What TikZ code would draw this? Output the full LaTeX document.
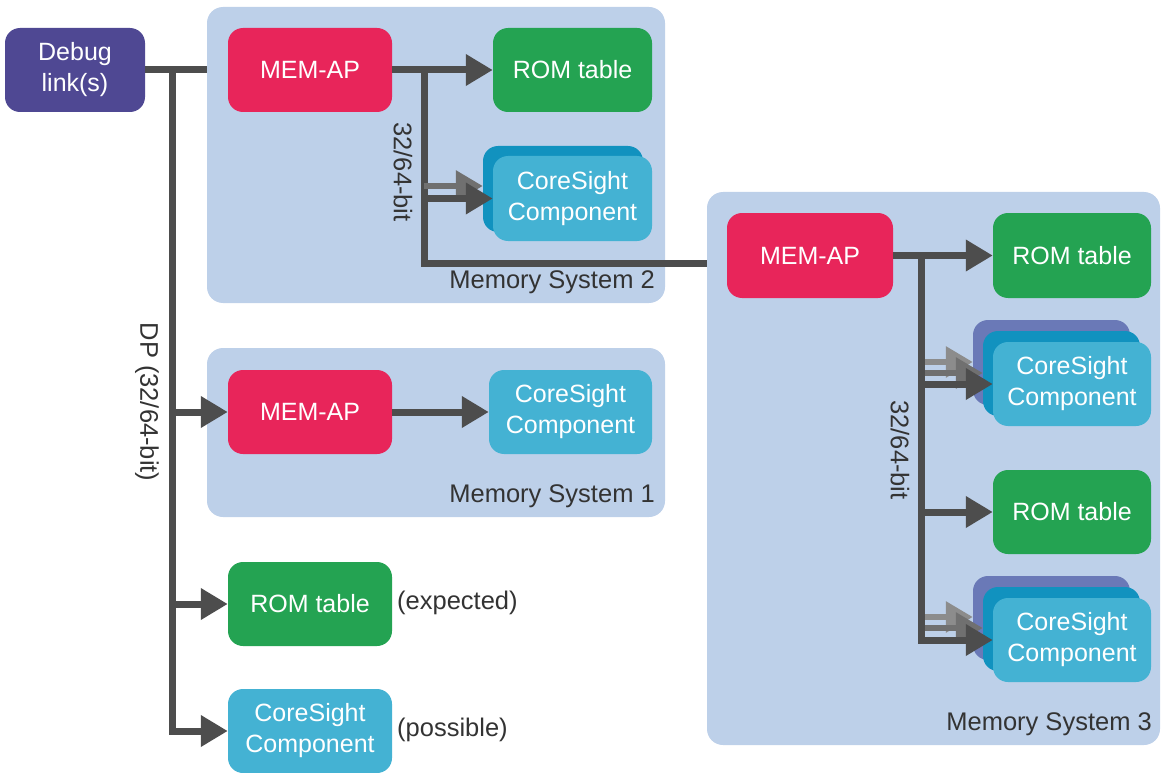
\documentclass[tikz,border=0pt]{standalone}
\usepackage{fontspec}
\setmainfont{Liberation Sans}
\usetikzlibrary{arrows.meta}
\definecolor{msfill}{HTML}{BDD0E9}
\definecolor{apred}{HTML}{E8255A}
\definecolor{romgreen}{HTML}{24A352}
\definecolor{dbgpurple}{HTML}{4F4893}
\definecolor{cscyan}{HTML}{44B2D3}
\definecolor{csblue}{HTML}{1192BF}
\definecolor{csback}{HTML}{6A79B7}
\definecolor{linegray}{HTML}{4D4D4D}
\definecolor{midgray}{HTML}{707070}
\definecolor{lightgray}{HTML}{8C8C8C}
\definecolor{txtgray}{HTML}{333333}
\tikzset{
  box/.style={rounded corners=15pt, inner sep=0pt, text=white, align=center,
    font=\fontsize{25}{31}\selectfont},
  membox/.style={rounded corners=16pt, fill=msfill, inner sep=0pt},
  wire/.style={draw=linegray, line width=7pt},
  arr/.style={wire, -{Triangle[length=27pt,width=30pt]}},
  arrmid/.style={draw=midgray, line width=6pt, -{Triangle[length=27pt,width=30pt]}},
  arrlight/.style={draw=lightgray, line width=6pt, -{Triangle[length=27pt,width=30pt]}},
  lbl/.style={text=txtgray, font=\fontsize{25.5}{30}\selectfont, inner sep=0pt},
}
\begin{document}
\begin{tikzpicture}[x=1pt,y=-1pt]
\useasboundingbox (0,0) rectangle (1168,773);
% memory systems
\node[membox, minimum width=458pt, minimum height=296pt] (ms2) at (436,155) {};
\node[membox, minimum width=458pt, minimum height=169pt] (ms1) at (436,432.5) {};
\node[membox, minimum width=453pt, minimum height=553pt] (ms3) at (933.5,468.5) {};
\node[lbl, anchor=south east] (ms2l) at (655,294) {Memory System 2};
\node[lbl, anchor=south east] (ms1l) at (655,508) {Memory System 1};
\node[lbl, anchor=south east] (ms3l) at (1152,736) {Memory System 3};
% debug link
\node[box, fill=dbgpurple, minimum width=140pt, minimum height=84pt] (dbg) at (75,70) {Debug\\link(s)};
% MS2
\node[box, fill=apred, minimum width=164pt, minimum height=84pt] (ap2) at (310,70) {MEM-AP};
\node[box, fill=romgreen, minimum width=159pt, minimum height=84pt] (rom2) at (572.5,70) {ROM table};
\node[box, fill=csblue, minimum width=160pt, minimum height=86pt] (cs2b) at (563,189) {};
\node[box, fill=cscyan, minimum width=159pt, minimum height=85pt] (cs2) at (572.5,198.5) {CoreSight\\Component};
% MS1
\node[box, fill=apred, minimum width=164pt, minimum height=84pt] (ap1) at (310,412) {MEM-AP};
\node[box, fill=cscyan, minimum width=163pt, minimum height=84pt] (cs1) at (570.5,412) {CoreSight\\Component};
% DP direct
\node[box, fill=romgreen, minimum width=164pt, minimum height=84pt] (rom0) at (310,604) {ROM table};
\node[box, fill=cscyan, minimum width=164pt, minimum height=84pt] (cs0) at (310,731) {CoreSight\\Component};
\node[lbl, anchor=west] (expl) at (397,603) {(expected)};
\node[lbl, anchor=west] (possl) at (397,730) {(possible)};
% MS3
\node[box, fill=apred, minimum width=166pt, minimum height=85pt] (ap3) at (810,255.5) {MEM-AP};
\node[box, fill=romgreen, minimum width=158pt, minimum height=85pt] (rom3a) at (1072,255.5) {ROM table};
\node[box, fill=csback, minimum width=157pt, minimum height=85pt] (cs3ab) at (1051.5,362.5) {};
\node[box, fill=csblue, minimum width=157pt, minimum height=85pt] (cs3am) at (1061.5,373.5) {};
\node[box, fill=cscyan, minimum width=158pt, minimum height=84pt] (cs3a) at (1072,384) {CoreSight\\Component};
\node[box, fill=romgreen, minimum width=158pt, minimum height=84pt] (rom3b) at (1072,512) {ROM table};
\node[box, fill=csback, minimum width=157pt, minimum height=84pt] (cs3bb) at (1051.5,618) {};
\node[box, fill=csblue, minimum width=157pt, minimum height=84pt] (cs3bm) at (1061.5,629) {};
\node[box, fill=cscyan, minimum width=158pt, minimum height=84pt] (cs3b) at (1072,640) {CoreSight\\Component};
% rotated labels
\node[lbl, rotate=-90] (dpl) at (147,402) {DP (32/64-bit)};
\node[lbl, rotate=-90] (bw2) at (403,172) {32/64-bit};
\node[lbl, rotate=-90] (bw3) at (900,450) {32/64-bit};
% main bus
\coordinate (b0) at (172,70);
\draw[wire] (dbg.east) -- (ms2.west |- dbg.east);
\draw[arr] (b0) |- (cs0.west);
\draw[arr] (b0 |- ap1.west) -- (ap1.west);
\draw[arr] (b0 |- rom0.west) -- (rom0.west);
% MS1 connection
\draw[arr] (ap1.east) -- (cs1.west);
% MS2 connections
\coordinate (v2) at (424,70);
\coordinate (e2) at (707,263);
\draw[arr] (ap2.east) -- (rom2.west);
\draw[wire] (v2) |- (e2);
\draw[arrmid] (v2 |- 0,186) -- (cs2b.west |- 0,186);
\draw[arr] (v2 |- 0,198.5) -- (cs2.west);
% MS3 connections
\coordinate (v3) at (921,255.5);
\draw[arr] (ap3.east) -- (rom3a.west);
\draw[arrlight] (v3 |- 0,362) -- (cs3ab.west |- 0,362);
\draw[arrmid] (v3 |- 0,373) -- (cs3am.west |- 0,373);
\draw[arr] (v3 |- 0,384) -- (cs3a.west);
\draw[arr] (v3 |- rom3b.west) -- (rom3b.west);
\draw[arrlight] (v3 |- 0,617) -- (cs3bb.west |- 0,617);
\draw[arrmid] (v3 |- 0,628) -- (cs3bm.west |- 0,628);
\draw[arr] (v3) |- (cs3b.west);
\end{tikzpicture}
\end{document}
